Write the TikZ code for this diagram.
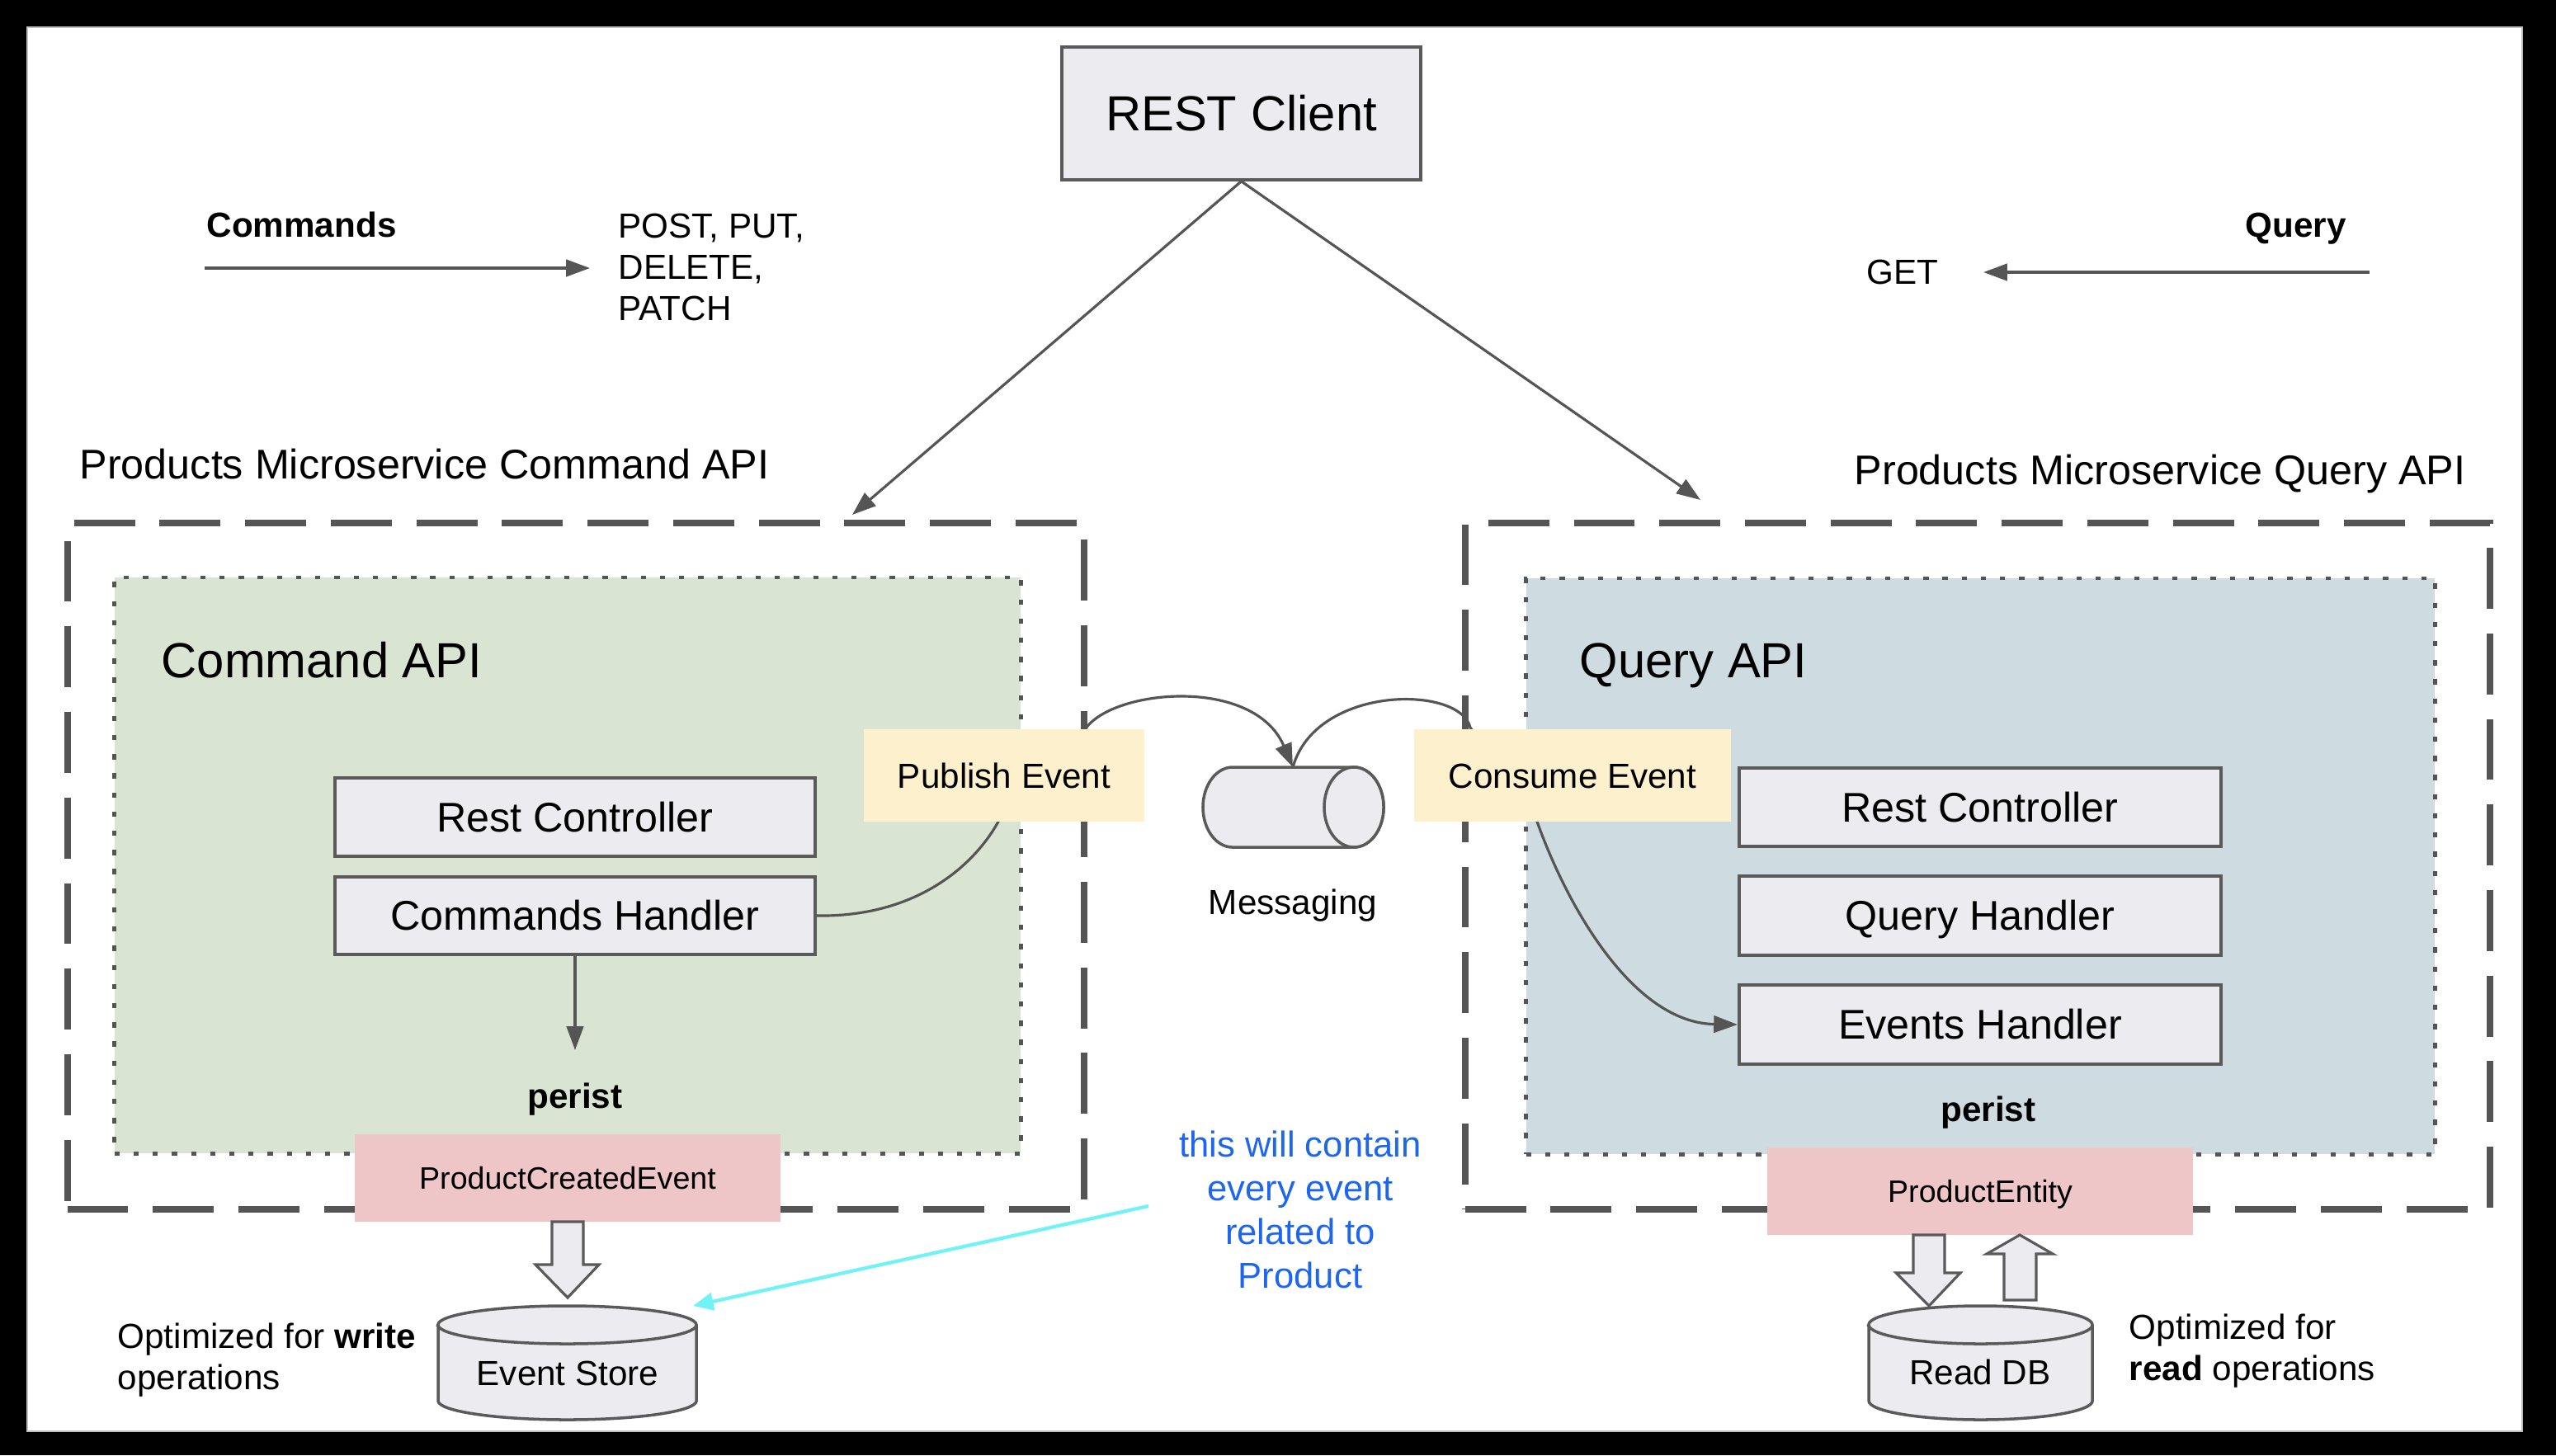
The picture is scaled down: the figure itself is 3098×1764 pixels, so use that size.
\documentclass[tikz,border=0pt]{standalone}
\usepackage{fontspec}
\setmainfont{Liberation Sans}
\usetikzlibrary{arrows.meta}
\definecolor{boxfill}{HTML}{ECEBF0}
\definecolor{boxline}{HTML}{5A5A5A}
\definecolor{greenfill}{HTML}{D9E5D2}
\definecolor{bluefill}{HTML}{CEDBE1}
\definecolor{yellowfill}{HTML}{FDF0CC}
\definecolor{pinkfill}{HTML}{EFC6C8}
\definecolor{dashcol}{HTML}{555555}
\definecolor{cyanline}{HTML}{6FF3F7}
\definecolor{bluetext}{HTML}{1F66EE}
\pgfdeclarelayer{back}
\pgfdeclarelayer{mid}
\pgfsetlayers{back,mid,main}
\begin{document}
\begin{tikzpicture}[x=0.01cm,y=-0.01cm,
  box/.style={draw=boxline, line width=1pt, fill=boxfill, inner sep=0pt,
    text height=10.2pt, text depth=0pt, font=\fontsize{14.3}{17}\selectfont},
  restbox/.style={box, text height=12.2pt, font=\fontsize{17}{20}\selectfont},
  tagbox/.style={fill=yellowfill, inner sep=0pt, text height=8.6pt, text depth=0pt,
    font=\fontsize{12}{14}\selectfont},
  pinkbox/.style={fill=pinkfill, inner sep=0pt, text height=7.7pt, text depth=0pt,
    font=\fontsize{10.7}{13}\selectfont},
  outerbox/.style={draw=dashcol, line width=2.3pt, dash pattern=on 21pt off 8.5pt, inner sep=0pt},
  innerbox/.style={draw=dashcol, line width=1.3pt, dash pattern=on 1.8pt off 4.8pt, inner sep=0pt},
  lbl/.style={inner sep=0pt, font=\fontsize{12}{14.3}\selectfont},
  biglbl/.style={inner sep=0pt, font=\fontsize{14.3}{17}\selectfont},
  apilbl/.style={inner sep=0pt, font=\fontsize{17}{20}\selectfont},
  conn/.style={draw=dashcol, line width=0.9pt, -{Triangle[length=8.2pt,width=5.8pt]}},
  cyl/.style={draw=boxline, line width=1pt, fill=boxfill},
  blockarrow/.style={draw=boxline, line width=0.9pt, fill=boxfill},
]
\useasboundingbox (0,0) rectangle (3098,1764);

% paper and containers
\begin{pgfonlayer}{back}
\fill[black] (0,0) rectangle (3098,1764);
\fill[white, draw=gray!50, line width=0.5pt] (33,33) rectangle (3057,1735);
\node[outerbox, minimum width=12.32cm, minimum height=8.32cm] (cmdouter) at (698,1050) {};
\node[innerbox, fill=greenfill, minimum width=10.98cm, minimum height=6.98cm] (cmdinner) at (688,1049) {};
\node[outerbox, minimum width=12.42cm, minimum height=8.32cm] (qryouter) at (2397,1050) {};
\node[innerbox, fill=bluefill, minimum width=11.01cm, minimum height=6.98cm] (qryinner) at (2400.5,1050) {};
\end{pgfonlayer}

% top
\node[restbox, minimum width=4.35cm, minimum height=1.61cm] (rest) at (1504.5,137.5) {REST Client};
\node[lbl, anchor=base west, font=\fontsize{12}{14.3}\selectfont\bfseries] (cmdlbl) at (250,288) {Commands};
\node[lbl, anchor=north west, align=left] (cmdverbs) at (749,258) {POST, PUT,\\DELETE,\\PATCH};
\node[lbl, anchor=base west, font=\fontsize{12}{14.3}\selectfont\bfseries] (qrylbl) at (2721,288) {Query};
\node[lbl, anchor=base west] (getlbl) at (2262,345) {GET};
\coordinate (cmdA) at (248,325);
\coordinate (cmdB) at (715,325);
\coordinate (qryA) at (2872,330);
\coordinate (qryB) at (2404,330);

\node[biglbl, anchor=base west] (cmdtitle) at (96,580) {Products Microservice Command API};
\node[biglbl, anchor=base west] (qrytitle) at (2247,587) {Products Microservice Query API};
\node[apilbl, anchor=base west] (cmdapi) at (195,821) {Command API};
\node[apilbl, anchor=base west] (qryapi) at (1914,821) {Query API};

% command side
\node[box, minimum width=5.82cm, minimum height=0.95cm] (crest) at (697,990.5) {Rest Controller};
\node[box, minimum width=5.82cm, minimum height=0.94cm] (chand) at (697,1110) {Commands Handler};
\coordinate (persistL) at (697,1273);
\node[lbl, anchor=base, font=\fontsize{12}{14.3}\selectfont\bfseries] (peristL) at (697,1343) {perist};
\node[pinkbox, minimum width=5.16cm, minimum height=1.06cm] (pce) at (688,1428) {ProductCreatedEvent};
\node[tagbox, minimum width=3.40cm, minimum height=1.12cm] (pub) at (1217,940) {Publish Event};

% query side
\node[box, minimum width=5.84cm, minimum height=0.95cm] (qrest) at (2400,978.5) {Rest Controller};
\node[box, minimum width=5.84cm, minimum height=0.96cm] (qhand) at (2400,1110) {Query Handler};
\node[box, minimum width=5.84cm, minimum height=0.96cm] (ehand) at (2400,1242) {Events Handler};
\node[lbl, anchor=base, font=\fontsize{12}{14.3}\selectfont\bfseries] (peristR) at (2410,1359) {perist};
\node[pinkbox, minimum width=5.16cm, minimum height=1.06cm] (pent) at (2400,1444) {ProductEntity};
\node[tagbox, minimum width=3.84cm, minimum height=1.12cm] (cons) at (1906,940) {Consume Event};

% messaging cylinder (horizontal)
\draw[cyl] (1641,930) -- (1494,930)
  arc[start angle=90, end angle=270, x radius=0.36cm, y radius=0.485cm]
  -- (1641,1027)
  arc[start angle=270, end angle=450, x radius=0.36cm, y radius=0.485cm] -- cycle;
\draw[cyl] (1641,978.5) ellipse[x radius=0.36cm, y radius=0.485cm];
\coordinate (msgtop) at (1567,930);
\node[lbl, anchor=base] (msglbl) at (1567,1108) {Messaging};

% event store cylinder
\draw[cyl] (531,1606) -- (531,1698)
  arc[start angle=180, end angle=360, x radius=1.565cm, y radius=0.23cm]
  -- (844,1606)
  arc[start angle=0, end angle=180, x radius=1.565cm, y radius=0.23cm] -- cycle;
\draw[cyl, fill=none] (531,1606) arc[start angle=180, end angle=360, x radius=1.565cm, y radius=0.23cm];
\node[lbl, text height=8.6pt, text depth=0pt] (estore) at (688,1664) {Event Store};
\coordinate (estoretop) at (840,1583);

% read db cylinder
\draw[cyl] (2265,1606) -- (2265,1698)
  arc[start angle=180, end angle=360, x radius=1.355cm, y radius=0.23cm]
  -- (2536,1606)
  arc[start angle=0, end angle=180, x radius=1.355cm, y radius=0.23cm] -- cycle;
\draw[cyl, fill=none] (2265,1606) arc[start angle=180, end angle=360, x radius=1.355cm, y radius=0.23cm];
\node[lbl, text height=8.6pt, text depth=0pt] (readdb) at (2400,1663) {Read DB};

% block arrows
\draw[blockarrow] (669,1481) -- (707,1481) -- (707,1533) -- (726,1533) -- (688,1573)
  -- (649,1533) -- (669,1533) -- cycle;
\draw[blockarrow] (2319,1497) -- (2357,1497) -- (2357,1543) -- (2376,1543) -- (2338,1583)
  -- (2298,1543) -- (2319,1543) -- cycle;
\draw[blockarrow] (2429,1576) -- (2468,1576) -- (2468,1520) -- (2488,1520) -- (2448,1497)
  -- (2408,1520) -- (2429,1520) -- cycle;

% side notes
\node[lbl, anchor=north west, align=left] (writenote) at (142,1603)
  {Optimized for \textbf{write}\\operations};
\node[lbl, anchor=north west, align=left] (readnote) at (2580,1592)
  {Optimized for\\\textbf{read} operations};
\node[inner sep=0pt, anchor=north, align=center, text=bluetext,
  font=\fontsize{12.4}{15.1}\selectfont] (note) at (1576,1370)
  {this will contain\\every event\\related to\\Product};
\coordinate (noteA) at (1392,1462);

% connectors
\begin{pgfonlayer}{mid}
\draw[conn] (rest.south) -- (1033,624);
\draw[conn] (rest.south) -- (2061,606);
\draw[conn] (cmdA) -- (cmdB);
\draw[conn] (qryA) -- (qryB);
\draw[conn] (chand.south) -- (persistL);
\draw[conn] (chand.east) .. controls (1110,1112) and (1180,1050) .. (1210,996)
  -- (1316,883) .. controls (1350,835) and (1520,820) .. (msgtop);
\draw[conn] (msgtop) .. controls (1595,830) and (1770,830) .. (1782,882)
  -- (1863,996) .. controls (1900,1100) and (1980,1240) .. (ehand.west);
\draw[draw=cyanline, line width=1.2pt, -{Triangle[length=7pt,width=6pt]}] (noteA) -- (estoretop);
\end{pgfonlayer}
\end{tikzpicture}
\end{document}
